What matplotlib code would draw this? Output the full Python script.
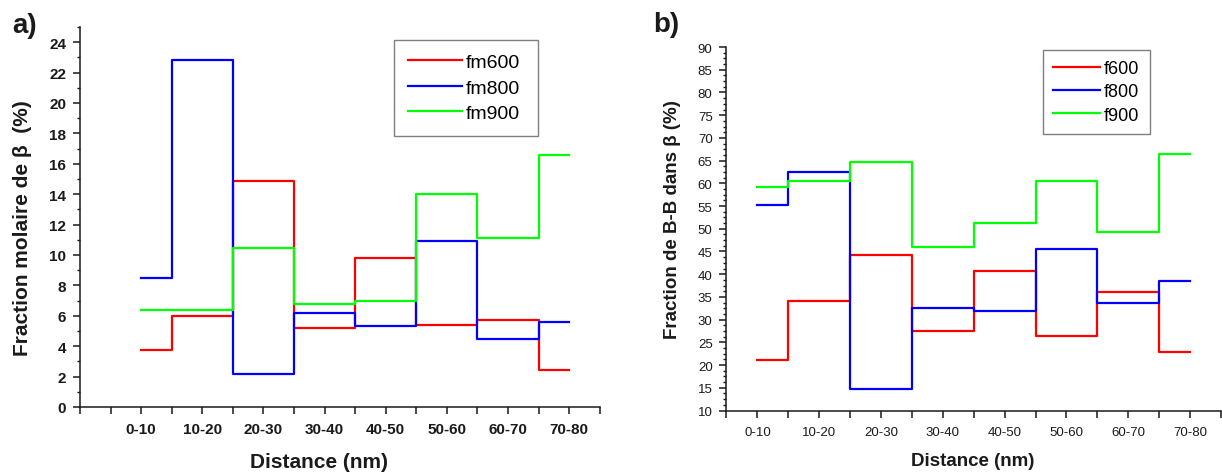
"""
Fraction molaire de beta / fraction de B-B : step profiles vs distance
"""

import numpy as np
import matplotlib
matplotlib.use("Agg")
import matplotlib.pyplot as plt
from matplotlib.ticker import MultipleLocator, FixedLocator

categories = ["0-10", "10-20", "20-30", "30-40", "40-50", "50-60", "60-70", "70-80"]

# panel a) - fraction molaire de beta (%)
fm600 = [3.75, 6.0, 14.85, 5.2, 9.8, 5.4, 5.75, 2.45]
fm800 = [8.5, 22.8, 2.2, 6.2, 5.3, 10.95, 4.45, 5.6]
fm900 = [6.35, 6.35, 10.45, 6.8, 6.95, 14.0, 11.1, 16.6]

# panel b) - fraction de B-B dans beta (%)
f600 = [21.1, 34.0, 44.3, 27.5, 40.6, 26.3, 36.1, 22.9]
f800 = [55.2, 62.5, 14.8, 32.6, 32.0, 45.5, 33.7, 38.5]
f900 = [59.2, 60.5, 64.8, 46.0, 51.2, 60.5, 49.2, 66.5]

COLORS = {"600": "#ff0000", "800": "#0000ff", "900": "#00ff00"}
TEXT = "#1a1a1a"

plt.rcParams.update({
    "font.family": ["Liberation Sans", "DejaVu Sans"],
    "axes.linewidth": 1.1,
    "axes.edgecolor": TEXT,
    "xtick.color": TEXT,
    "ytick.color": TEXT,
})

fig = plt.figure(figsize=(12.22, 4.77), dpi=100)
fig.patch.set_facecolor("white")

ax_a = fig.add_axes([0.0655, 0.1447, 0.4252, 0.7966])
ax_b = fig.add_axes([0.5945, 0.1373, 0.4047, 0.762])

x = np.arange(1, len(categories) + 1)


def style_axes(ax, xmin, tick_size, bold):
    for side in ("top", "right"):
        ax.spines[side].set_visible(False)
    ax.set_xlim(xmin, 8.5)
    ax.xaxis.set_major_locator(FixedLocator(x))
    ax.set_xticklabels(categories, fontsize=tick_size,
                       fontweight="bold" if bold else "normal")
    ax.xaxis.set_minor_locator(FixedLocator(np.arange(xmin, 8.51, 0.5)))
    ax.tick_params(axis="x", which="both", direction="out", length=5, width=1.1, pad=6)
    ax.tick_params(axis="y", which="major", direction="out", length=5, width=1.1, pad=5,
                   labelsize=tick_size)
    ax.tick_params(axis="y", which="minor", direction="out", length=2.5, width=1.0)
    if bold:
        for lbl in ax.get_yticklabels():
            lbl.set_fontweight("bold")


# ---- panel a
for vals, key, name in [(fm600, "600", "fm600"), (fm800, "800", "fm800"), (fm900, "900", "fm900")]:
    ax_a.step(x, vals, where="mid", color=COLORS[key], lw=1.6, label=name)

ax_a.set_ylim(0, 25)
ax_a.yaxis.set_major_locator(FixedLocator(np.arange(0, 25, 2)))
ax_a.yaxis.set_minor_locator(MultipleLocator(1))
style_axes(ax_a, 0, 11, True)
for lbl in ax_a.get_yticklabels():
    lbl.set_fontweight("bold")

ax_a.set_xlabel("Distance (nm)", fontsize=15, fontweight="bold", color=TEXT)
ax_a.set_ylabel("Fraction molaire de β  (%)", fontsize=15, fontweight="bold", color=TEXT)
ax_a.xaxis.set_label_coords(0.46, -0.118)
ax_a.yaxis.set_label_coords(-0.093, 0.474)

leg_a = ax_a.legend(
    loc="upper left", bbox_to_anchor=(0.3228, 0.714, 0.1177, 0.2),
    bbox_transform=fig.transFigure, mode="expand", borderaxespad=0,
    fontsize=14, handlelength=2.75, handletextpad=0.2, labelspacing=0.4,
    borderpad=0.7, fancybox=False, framealpha=1, edgecolor="#7f7f7f",
)
leg_a.get_frame().set_linewidth(1.0)

# ---- panel b
for vals, key, name in [(f600, "600", "f600"), (f800, "800", "f800"), (f900, "900", "f900")]:
    ax_b.step(x, vals, where="mid", color=COLORS[key], lw=1.6, label=name)

ax_b.set_ylim(10, 90)
ax_b.yaxis.set_major_locator(MultipleLocator(5))
ax_b.yaxis.set_minor_locator(MultipleLocator(1.25))
style_axes(ax_b, 0.5, 9.5, False)

ax_b.set_xlabel("Distance (nm)", fontsize=13.5, fontweight="bold", color=TEXT)
ax_b.set_ylabel("Fraction de B-B dans β (%)", fontsize=13.5, fontweight="bold", color=TEXT)
ax_b.xaxis.set_label_coords(0.4985, -0.114)
ax_b.yaxis.set_label_coords(-0.0926, 0.529)

leg_b = ax_b.legend(
    loc="upper left", bbox_to_anchor=(0.8535, 0.693, 0.0876, 0.2),
    bbox_transform=fig.transFigure, mode="expand", borderaxespad=0,
    fontsize=13, handlelength=2.6, handletextpad=0.2, labelspacing=0.35,
    borderpad=0.55, fancybox=False, framealpha=1, edgecolor="#7f7f7f",
)
leg_b.get_frame().set_linewidth(1.0)

# panel letters
fig.text(12 / 1222, 1 - 33 / 477, "a)", fontsize=20, fontweight="bold", color=TEXT,
         ha="left", va="baseline")
fig.text(653 / 1222, 1 - 32 / 477, "b)", fontsize=20, fontweight="bold", color=TEXT,
         ha="left", va="baseline")

fig.savefig("out.png", dpi=100, facecolor="white")
